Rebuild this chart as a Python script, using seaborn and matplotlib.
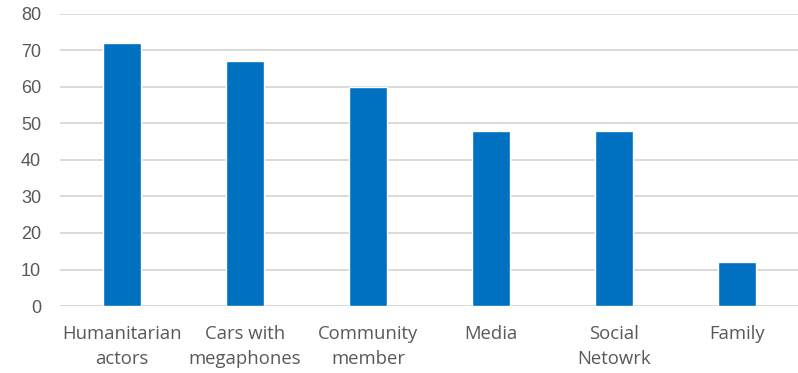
import matplotlib
matplotlib.use('Agg')
import matplotlib.pyplot as plt
import seaborn as sns
import pandas as pd

categories = ['Humanitarian\nactors', 'Cars with\nmegaphones', 'Community\nmember',
              'Media', 'Social\nNetowrk', 'Family']
values = [72, 67, 60, 48, 48, 12]
y_ticks = [0, 10, 20, 30, 40, 50, 60, 70, 80]

df = pd.DataFrame({'source': categories, 'count': values})

sns.set_theme(style='white')
plt.rcParams['font.family'] = ['Liberation Sans', 'DejaVu Sans']

fig = plt.figure(figsize=(7.98, 3.73), dpi=100)
ax = fig.add_axes([0.0758, 0.1796, 0.925, 0.783])

sns.barplot(data=df, x='source', y='count', color='#0070C0', saturation=1,
            width=0.31, ax=ax)

ax.set_ylim(0, 80)
ax.set_xlim(-0.5, 5.5)
ax.set_yticks(y_ticks)
ax.yaxis.grid(True, color='#D9D9D9', linewidth=1.4)
ax.set_axisbelow(True)
for s in ax.spines.values():
    s.set_visible(False)
ax.axhline(0, color='#D9D9D9', linewidth=1.4, zorder=0.5)

ax.set_xlabel('')
ax.set_ylabel('')
ax.tick_params(axis='y', length=0, pad=14, labelsize=13, labelcolor='#595959')
ax.tick_params(axis='x', length=0, pad=14, labelcolor='#595959')
for lbl in ax.get_xticklabels():
    lbl.set_fontfamily(['Open Sans', 'DejaVu Sans'])
    lbl.set_fontsize(13.3)
    lbl.set_linespacing(1.45)

fig.savefig('out.png', dpi=100)
